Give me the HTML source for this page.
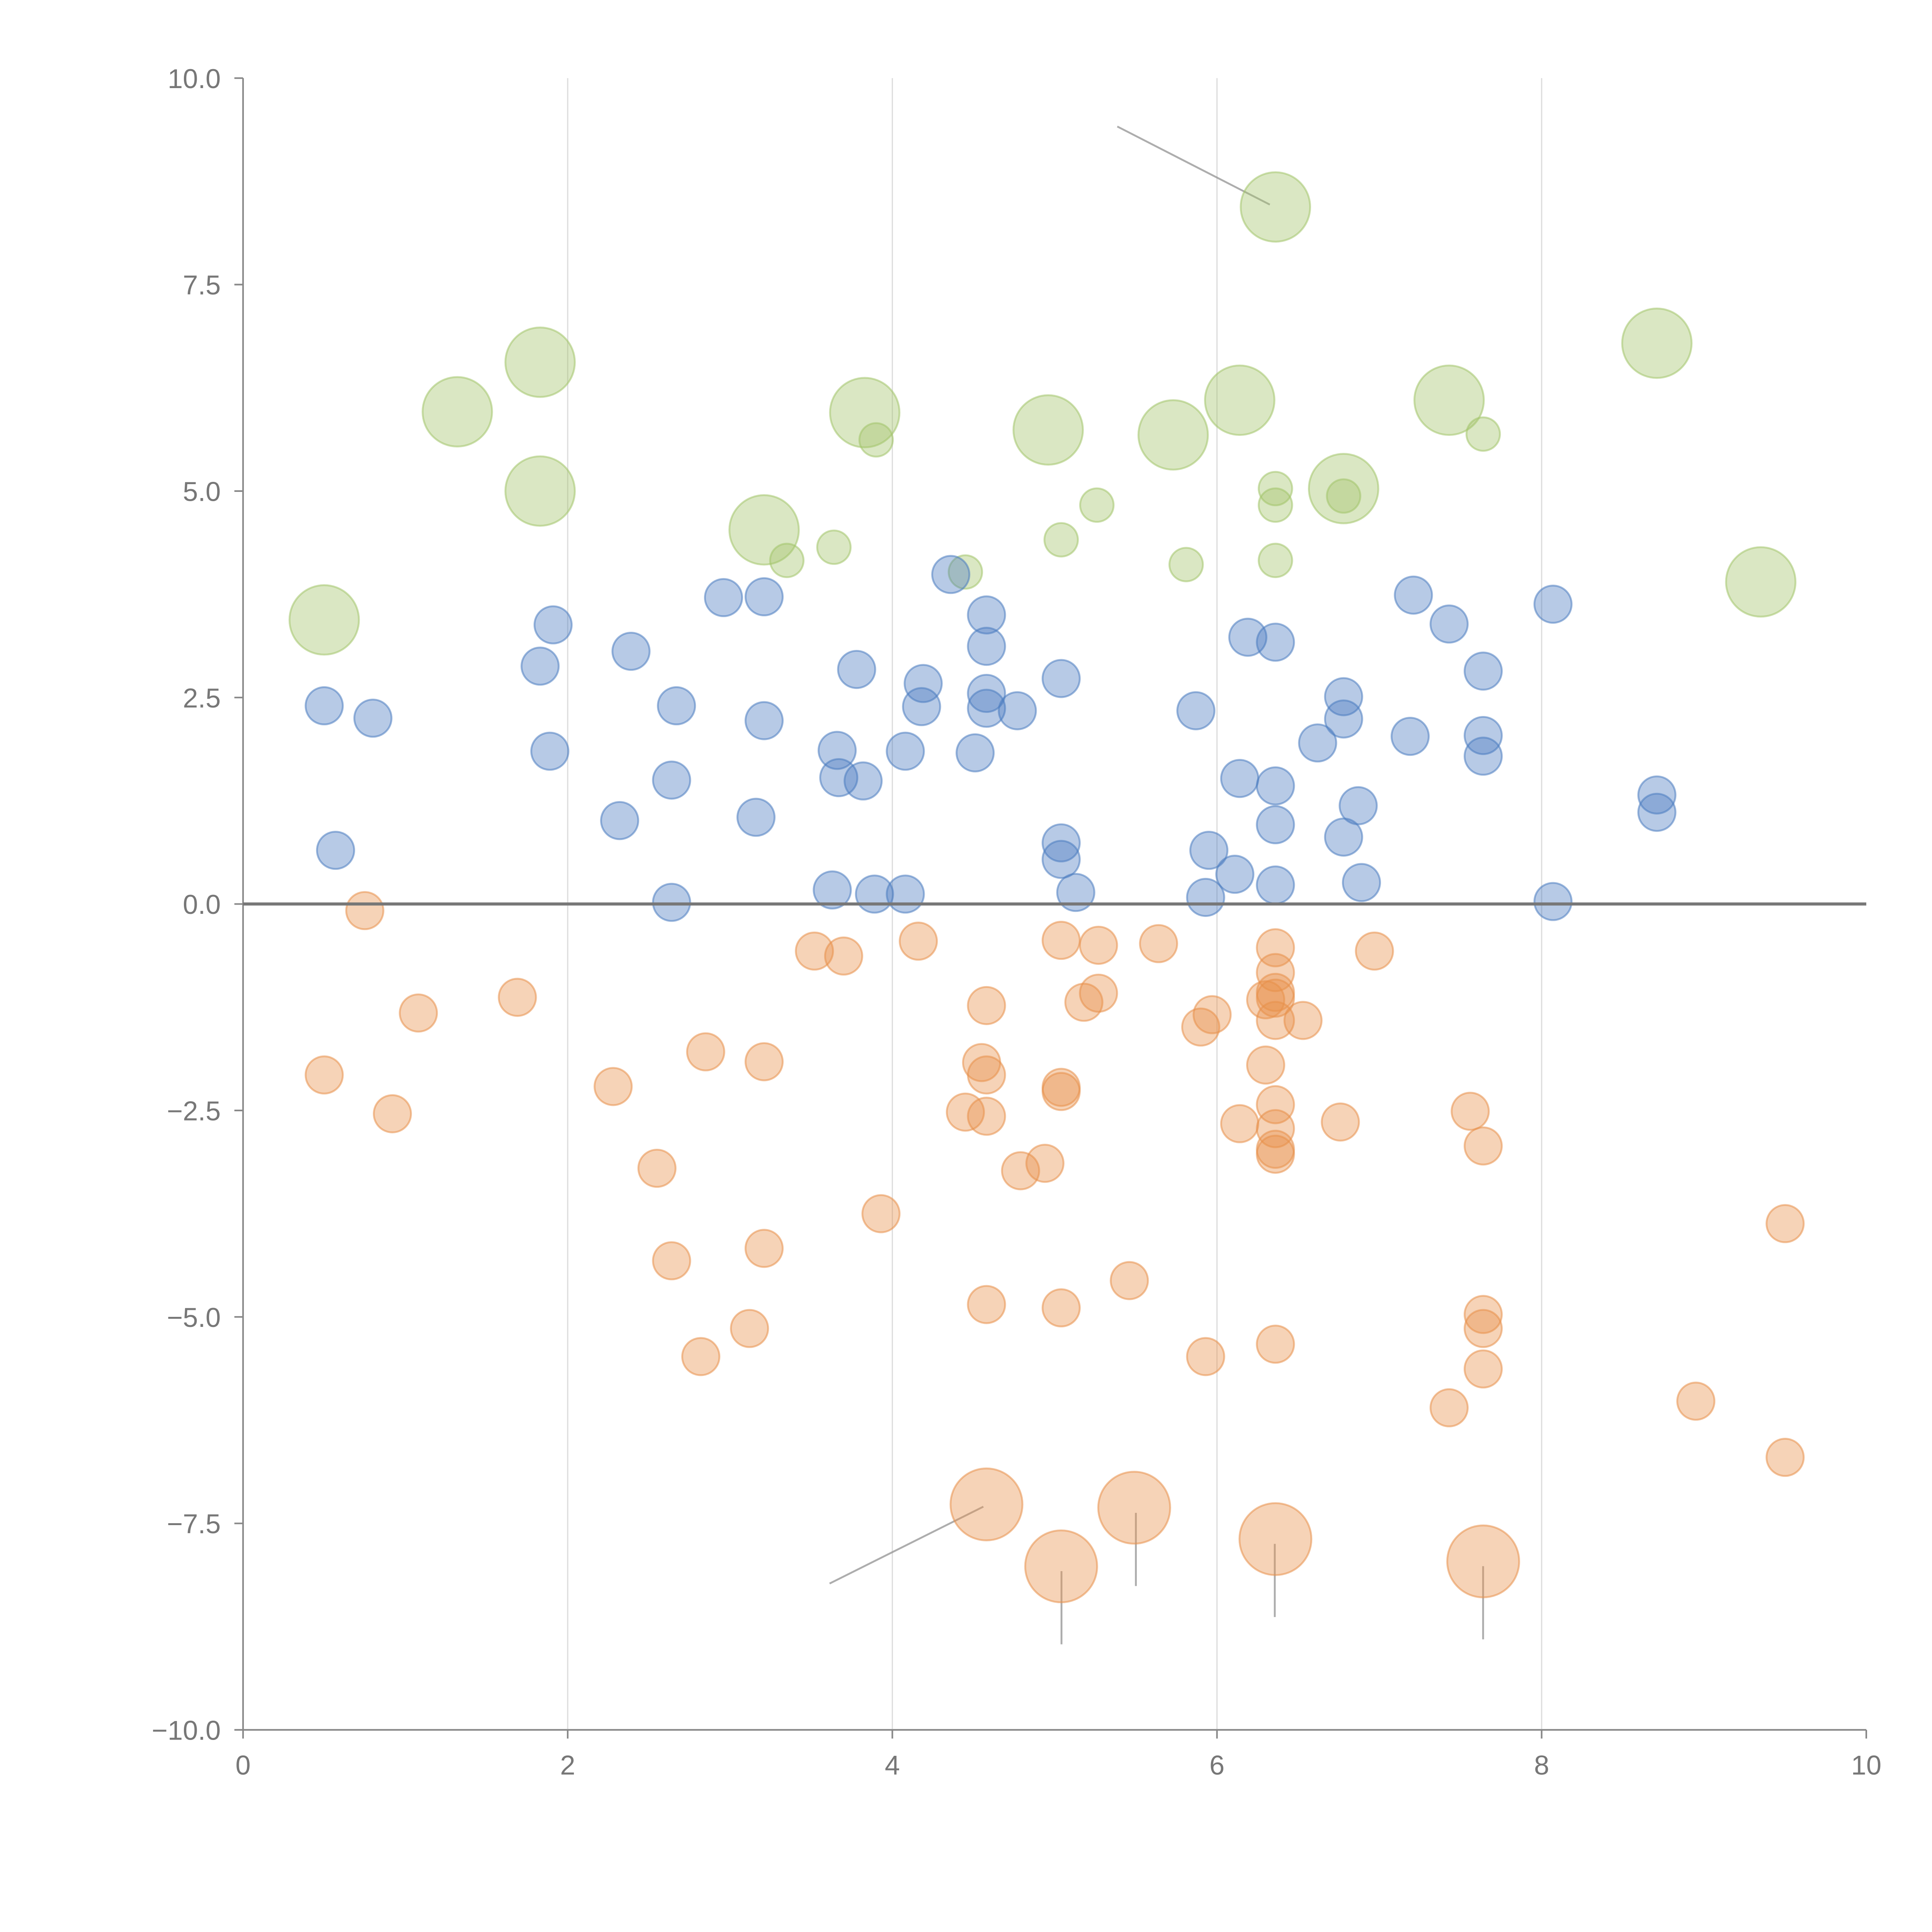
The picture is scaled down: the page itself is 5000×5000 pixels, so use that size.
<!DOCTYPE html>
<html><head><meta charset="utf-8"><style>
html,body{margin:0;padding:0;background:#fff;}
svg{display:block;}
text{font-family:"Liberation Sans",sans-serif;fill:#777;font-size:22px;}
</style></head>
<body>
<svg id="chart" width="5000" height="5000" viewBox="0 0 1558 1558" xmlns="http://www.w3.org/2000/svg">
<g id="grid"></g>
<g id="annot"></g>
<g id="marks"></g>
<g id="axes"></g>
</svg>
<script>
const xTicks=[0,2,4,6,8,10];
const yTicks=[-10,-7.5,-5,-2.5,0,2.5,5,7.5,10];
const yTickLabels=["\u221210.0","\u22127.5","\u22125.0","\u22122.5","0.0","2.5","5.0","7.5","10.0"];
const blueX=[0.50,0.80,0.57,1.83,1.91,1.89,2.39,2.32,2.67,2.64,2.64,2.96,3.21,3.21,3.16,3.63,3.66,3.67,3.82,3.78,3.89,4.08,4.08,4.19,4.18,4.36,4.58,4.58,4.51,4.58,4.58,4.77,5.04,5.04,5.04,5.13,5.87,5.95,5.93,6.11,6.14,6.19,6.36,6.36,6.36,6.36,6.62,6.78,6.78,6.87,6.78,6.89,7.21,7.19,7.43,7.64,7.64,7.64,8.07,8.07,8.71,8.71];
const blueY=[2.40,2.25,0.65,2.88,3.38,1.85,3.06,1.01,2.40,1.50,0.02,3.71,3.72,2.22,1.05,0.17,1.86,1.53,1.49,2.84,0.12,0.12,1.85,2.67,2.39,3.99,3.50,3.12,1.83,2.55,2.37,2.34,2.73,0.74,0.54,0.14,2.34,0.65,0.08,0.36,1.52,3.23,3.17,1.43,0.96,0.23,1.95,2.51,2.24,1.19,0.81,0.26,3.74,2.03,3.39,2.82,2.04,1.79,3.63,0.03,1.32,1.11];
const orangeX=[0.75,0.50,0.92,1.08,1.69,2.28,2.55,2.64,2.82,2.85,3.21,3.21,3.12,3.52,3.70,3.93,4.16,4.45,4.55,4.58,4.58,4.58,4.58,4.79,4.94,5.04,5.04,5.04,5.04,5.27,5.18,5.27,5.46,5.64,5.90,5.97,5.93,6.14,6.30,6.30,6.36,6.36,6.36,6.36,6.36,6.53,6.36,6.36,6.36,6.36,6.36,6.76,6.97,7.56,7.64,7.64,7.64,7.64,7.43,8.95,9.50,9.50];
const orangeY=[-0.08,-2.07,-2.54,-1.32,-1.13,-2.21,-3.20,-4.32,-5.48,-1.79,-1.91,-4.17,-5.14,-0.57,-0.63,-3.75,-0.45,-2.52,-1.92,-1.23,-2.07,-2.57,-4.85,-3.23,-3.14,-0.44,-2.22,-2.27,-4.89,-0.50,-1.19,-1.08,-4.56,-0.48,-1.49,-1.34,-5.48,-2.66,-1.95,-1.16,-0.53,-0.83,-1.07,-1.14,-1.41,-1.41,-2.43,-2.72,-2.97,-3.03,-5.33,-2.64,-0.57,-2.51,-2.93,-4.97,-5.14,-5.63,-6.10,-6.02,-3.87,-6.70];
const orangeBigX=[4.58,5.49,5.04,6.36,7.64];
const orangeBigY=[-7.27,-7.31,-8.02,-7.69,-7.96];
const greenX=[3.35,3.64,3.90,4.45,5.04,5.26,5.81,6.36,6.36,6.36,6.78,7.64];
const greenY=[4.16,4.32,5.62,4.02,4.41,4.83,4.11,5.03,4.83,4.16,4.94,5.69];
const greenBigX=[0.50,1.32,1.83,1.83,3.21,3.83,4.96,5.73,6.14,6.36,6.78,7.43,8.71,9.35];
const greenBigY=[3.44,5.96,6.56,5.00,4.53,5.95,5.74,5.68,6.10,8.44,5.03,6.10,6.79,3.90];

const NS="http://www.w3.org/2000/svg";
const X=v=>196+v*130.9;
const Y=v=>729-v*66.6;
function mk(tag,attrs,parent){const e=document.createElementNS(NS,tag);for(const k in attrs)e.setAttribute(k,attrs[k]);parent.appendChild(e);return e;}
const grid=document.getElementById('grid'),axes=document.getElementById('axes'),marks=document.getElementById('marks'),annot=document.getElementById('annot');
[2,4,6,8].forEach(v=>{const l=mk('line',{x1:X(v),x2:X(v),y1:Y(10),y2:Y(-10),stroke:'#ddd','stroke-width':1},grid);

});
let a=mk('line',{x1:X(0),x2:X(0),y1:Y(10),y2:Y(-10),stroke:'#888','stroke-width':1.3},axes);


a=mk('line',{x1:X(0),x2:X(10),y1:Y(-10),y2:Y(-10),stroke:'#888','stroke-width':1.3},axes);


a=mk('line',{x1:X(0),x2:X(10),y1:Y(0),y2:Y(0),stroke:'#777','stroke-width':2.5},axes);


xTicks.forEach(v=>{mk('line',{x1:X(v),x2:X(v),y1:Y(-10),y2:Y(-10)+7,stroke:'#888','stroke-width':1.3},axes);
const t=mk('text',{x:X(v),y:Y(-10)+36,'text-anchor':'middle'},axes);t.textContent=String(v);

});
yTicks.forEach((v,i)=>{mk('line',{x1:X(0)-7,x2:X(0),y1:Y(v),y2:Y(v),stroke:'#888','stroke-width':1.3},axes);
const t=mk('text',{x:X(0)-18,y:Y(v)+8,'text-anchor':'end'},axes);t.textContent=yTickLabels[i];

});
function series(xs,ys,r,fill,stroke,name){xs.forEach((v,i)=>{const c=mk('circle',{cx:X(v),cy:Y(ys[i]),r:r,fill:fill,'fill-opacity':0.4,stroke:stroke,'stroke-opacity':0.55,'stroke-width':1.5},marks);

});}
series(greenBigX,greenBigY,28,'#a3c46a','#a3c46a','green-big-bubble');
series(greenX,greenY,13.5,'#a3c46a','#a3c46a','green-bubble');
series(blueX,blueY,15,'#4a7bc0','#4a7bc0','blue-bubble');
series(orangeX,orangeY,15,'#e8904a','#e8904a','orange-bubble');
series(orangeBigX,orangeBigY,29,'#e8904a','#e8904a','orange-big-bubble');
[[901,102,1024,165],[669,1277,793,1215],[856,1267,856,1326],[916,1220,916,1279],[1028,1245,1028,1304],[1196,1263,1196,1322]].forEach(s=>{
const l=mk('line',{x1:s[0],y1:s[1],x2:s[2],y2:s[3],stroke:'#999','stroke-width':1.5,'stroke-opacity':0.8},annot);

});
</script>
</body></html>
